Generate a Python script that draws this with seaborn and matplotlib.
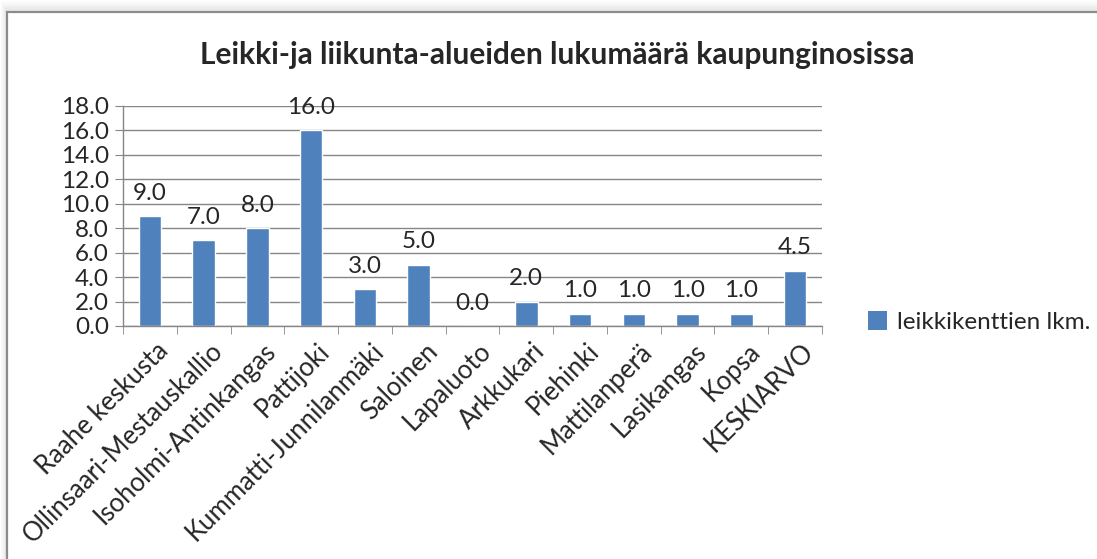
import matplotlib
matplotlib.use("Agg")
import matplotlib.pyplot as plt
import matplotlib.transforms as mtransforms
import seaborn as sns
from matplotlib.patches import Rectangle, Patch
from matplotlib.ticker import MultipleLocator, FormatStrFormatter

# data
kaupunginosat = ['Raahe keskusta', 'Ollinsaari-Mestauskallio', 'Isoholmi-Antinkangas',
                 'Pattijoki', 'Kummatti-Junnilanmäki', 'Saloinen', 'Lapaluoto',
                 'Arkkukari', 'Piehinki', 'Mattilanperä', 'Lasikangas', 'Kopsa', 'KESKIARVO']
lkm = [9.0, 7.0, 8.0, 16.0, 3.0, 5.0, 0.0, 2.0, 1.0, 1.0, 1.0, 1.0, 4.5]
sarja = 'leikkikenttien lkm.'
otsikko = 'Leikki-ja liikunta-alueiden lukumäärä kaupunginosissa'

sns.set_style('white')
plt.rcParams['font.family'] = ['Lato', 'DejaVu Sans']

blue = '#4F81BD'
grid_c = '#868686'
fs = 17.5

fig = plt.figure(figsize=(10.97, 5.59), dpi=100)

# chart frame: only top and left edges are inside the picture, with a soft shadow
for k in range(10):
    fig.patches.append(Rectangle((7 - k * 0.7, -50), 2000, 597 + k * 1.2, transform=None,
                                 facecolor='black', edgecolor='none', alpha=0.012,
                                 zorder=-3))
fig.patches.append(Rectangle((7, -50), 2000, 597, transform=None, facecolor='white',
                             edgecolor='#8c8c8c', lw=1.6, zorder=-1))

ax = fig.add_axes([123 / 1097, 1 - 326 / 559, 699 / 1097, 220 / 559])
ax.patch.set_alpha(0)
sns.barplot(x=kaupunginosat, y=lkm, color=blue, saturation=1, width=0.42, ax=ax)

ax.set_ylim(0, 18)
ax.set_xlim(-0.5, len(kaupunginosat) - 0.5)
ax.yaxis.set_major_locator(MultipleLocator(2))
ax.yaxis.set_major_formatter(FormatStrFormatter('%.1f'))
ax.grid(axis='y', color=grid_c, lw=1)
ax.set_axisbelow(True)

for s in ['top', 'right']:
    ax.spines[s].set_visible(False)
for s in ['left', 'bottom']:
    ax.spines[s].set_color(grid_c)
    ax.spines[s].set_linewidth(1)

ax.tick_params(axis='y', left=True, length=6, color=grid_c, labelsize=fs, pad=4)
ax.set_xticks(range(len(kaupunginosat)))
ax.set_xticklabels(kaupunginosat, rotation=45, ha='right', va='top',
                   rotation_mode='anchor', fontsize=18.5)
ax.tick_params(axis='x', bottom=False, length=0, pad=9)
ax.set_xticks([i - 0.5 for i in range(len(kaupunginosat) + 1)], minor=True)
ax.tick_params(axis='x', which='minor', bottom=True, length=6, color=grid_c)

# nudge the rotated labels a little to the right, like Excel does
shift = mtransforms.ScaledTranslation(6 / 100, 0, fig.dpi_scale_trans)
for lab in ax.get_xticklabels():
    lab.set_transform(lab.get_transform() + shift)

ax.bar_label(ax.containers[0], fmt='%.1f', padding=9, fontsize=fs)

ax.set_xlabel('')
ax.set_ylabel('')

fig.text(557 / 1097, 1 - 55 / 559, otsikko, ha='center', va='center',
         fontsize=21.5, fontweight='bold')

handle = Patch(facecolor=blue, edgecolor='none', label=sarja)
fig.legend(handles=[handle], loc='center left', bbox_to_anchor=(858 / 1097, 1 - 322 / 559),
           frameon=False, fontsize=fs, handlelength=0.8, handleheight=0.8,
           handletextpad=0.4, borderaxespad=0)

fig.savefig('out.png', dpi=100)
